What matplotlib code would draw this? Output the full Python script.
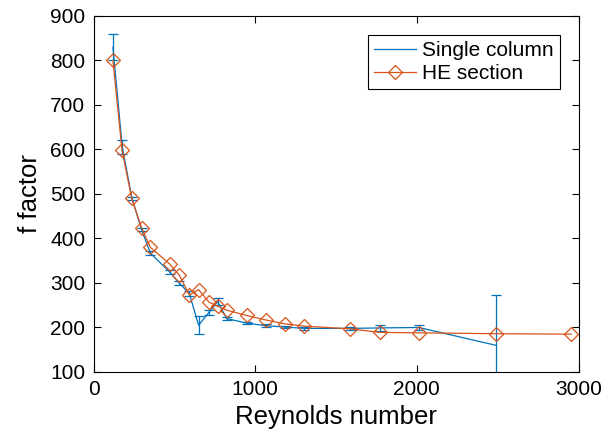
import matplotlib
matplotlib.use('Agg')
import matplotlib.pyplot as plt

# Single column: f factor with error bars
sc_re = [120, 178, 238, 297, 352, 470, 530, 593, 650, 714, 768, 824, 947, 1065, 1185, 1304, 1587, 1772, 2013, 2488]
sc_f = [830, 605, 490, 420, 367, 325, 300, 276, 205, 234, 258, 220, 210, 204, 201, 198, 198, 199, 200, 160]
sc_err = [30, 16, 4, 4, 5, 5, 4, 5, 20, 5, 8, 4, 3, 3, 3, 3, 3, 6, 5, 112]

# HE section
he_re = [120, 176, 235, 297, 352, 470, 530, 593, 650, 714, 768, 824, 947, 1065, 1185, 1304, 1587, 1772, 2013, 2488, 2955]
he_f = [800, 599, 492, 424, 380, 343, 318, 273, 285, 257, 248, 239, 227, 217, 208, 203, 197, 189, 188, 186, 185]

blue = '#0072BD'
orange = '#D95319'

plt.rcParams['font.family'] = ['Liberation Sans', 'DejaVu Sans']

fig = plt.figure(figsize=(6.01, 4.43), dpi=100)
ax = fig.add_axes([0.1556, 0.1603, 0.807, 0.8036])

ax.errorbar(sc_re, sc_f, yerr=sc_err, fmt='none', ecolor=blue, elinewidth=0.9,
            capsize=3.5, capthick=0.9, zorder=2)
ax.plot(sc_re, sc_f, color=blue, lw=0.9, label='Single column', zorder=2)
ax.plot(he_re, he_f, color=orange, lw=0.9, marker='D', markersize=7.5,
        markerfacecolor='none', markeredgecolor=orange, markeredgewidth=0.9,
        label='HE section', zorder=3)

ax.set_xlim(0, 3000)
ax.set_ylim(100, 900)
ax.set_xticks([0, 1000, 2000, 3000])
ax.set_yticks(range(100, 901, 100))
ax.tick_params(direction='in', top=True, right=True, length=5, width=0.8,
               labelsize=15, pad=6)
for s in ax.spines.values():
    s.set_linewidth(0.8)

ax.set_xlabel('Reynolds number', fontsize=18.5, labelpad=4)
ax.set_ylabel('f factor', fontsize=18.5, labelpad=6)

leg = ax.legend(loc='upper right', fontsize=15, fancybox=False, framealpha=1,
                edgecolor='black', borderaxespad=0.9, handlelength=2.0,
                handletextpad=0.3, borderpad=0.3, labelspacing=0.2)
leg.get_frame().set_linewidth(0.8)

fig.savefig('out.png', dpi=100)
